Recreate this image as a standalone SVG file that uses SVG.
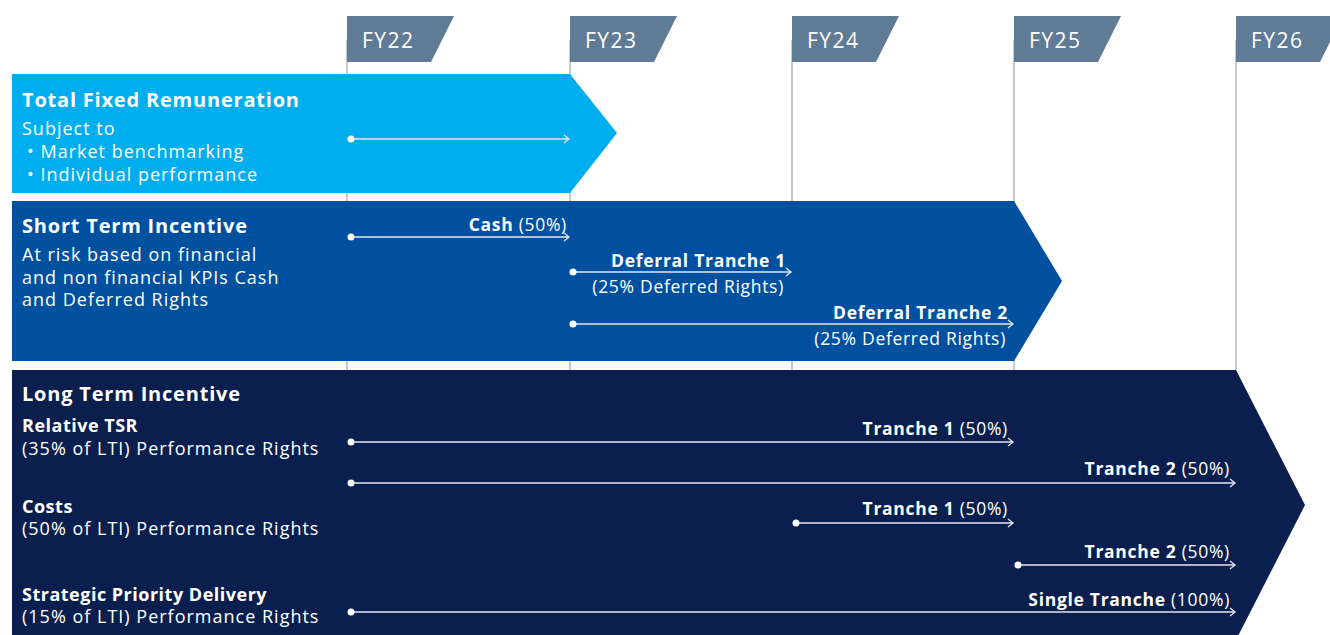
<svg xmlns="http://www.w3.org/2000/svg" width="1330" height="635" viewBox="0 0 1330 635">
<defs>
<style>
text{font-family:"Open Sans","Liberation Sans",Arial,sans-serif;fill:#fff}
.fy{font-size:21px;letter-spacing:1.5px}
.h{font-size:20px;font-weight:700;letter-spacing:0.8px}
.s{font-size:18px;font-weight:700;letter-spacing:0.5px}
.t{font-size:18px;letter-spacing:1px}
.lab{font-size:17.5px;letter-spacing:0.7px;text-anchor:end}
.b{font-weight:700}
.tl{stroke:#a3afbf;stroke-width:1.3}
.ar{stroke:#e4e8ef;stroke-width:1.3;fill:none}
.dot{fill:#fff}
</style>
<marker id="ah" markerWidth="10" markerHeight="10" refX="8" refY="5" orient="auto" markerUnits="userSpaceOnUse">
<path d="M3,1 L8,5 L3,9" fill="none" stroke="#e4e8ef" stroke-width="1.3"/>
</marker>
</defs>
<rect width="1330" height="635" fill="#fff"/>
<g id="timeline">
<line class="tl" x1="347" y1="40" x2="347" y2="635"/>
<line class="tl" x1="570" y1="40" x2="570" y2="635"/>
<line class="tl" x1="792" y1="40" x2="792" y2="635"/>
<line class="tl" x1="1014" y1="40" x2="1014" y2="635"/>
<line class="tl" x1="1236" y1="40" x2="1236" y2="635"/>
<g id="fy22"><path d="M347,16 H454 L431,62 H347 Z" fill="#607b95"/><text class="fy" x="362" y="48">FY22</text></g>
<g id="fy23"><path d="M570,16 H677 L654,62 H570 Z" fill="#607b95"/><text class="fy" x="585" y="48">FY23</text></g>
<g id="fy24"><path d="M792,16 H899 L876,62 H792 Z" fill="#607b95"/><text class="fy" x="807" y="48">FY24</text></g>
<g id="fy25"><path d="M1014,16 H1121 L1098,62 H1014 Z" fill="#607b95"/><text class="fy" x="1029" y="48">FY25</text></g>
<g id="fy26"><path d="M1236,16 H1343 L1320,62 H1236 Z" fill="#607b95"/><text class="fy" x="1251" y="48">FY26</text></g>
</g>
<g id="tfr">
<path d="M12,74 H570 L617,133 L570,193 H12 Z" fill="#00aeef"/>
<text class="h" x="22" y="107">Total Fixed Remuneration</text>
<text class="t" x="22" y="135">Subject to</text>
<text class="t" x="27" y="158">• Market benchmarking</text>
<text class="t" x="27" y="181">• Individual performance</text>
</g>
<g id="sti">
<path d="M12,201 H1014 L1062,281 L1014,361 H12 Z" fill="#0050a0"/>
<text class="h" x="22" y="233">Short Term Incentive</text>
<text class="t" x="22" y="261">At risk based on financial</text>
<text class="t" x="22" y="284">and non financial KPIs Cash</text>
<text class="t" x="22" y="306">and Deferred Rights</text>
<text class="lab" x="567" y="231"><tspan class="b">Cash</tspan> (50%)</text>
<text class="lab b" x="786" y="267">Deferral Tranche 1</text>
<text class="lab" x="784" y="293">(25% Deferred Rights)</text>
<text class="lab b" x="1008" y="319">Deferral Tranche 2</text>
<text class="lab" x="1006" y="345">(25% Deferred Rights)</text>
</g>
<g id="lti">
<path d="M12,370 H1236 L1305,505 L1236,640 H12 Z" fill="#0b1f4e"/>
<text class="h" x="22" y="401">Long Term Incentive</text>
<text class="s" x="22" y="432">Relative TSR</text>
<text class="t" x="22" y="455">(35% of LTI) Performance Rights</text>
<text class="s" x="22" y="513">Costs</text>
<text class="t" x="22" y="535">(50% of LTI) Performance Rights</text>
<text class="s" x="22" y="601">Strategic Priority Delivery</text>
<text class="t" x="22" y="623">(15% of LTI) Performance Rights</text>
<text class="lab" x="1008" y="435"><tspan class="b">Tranche 1</tspan> (50%)</text>
<text class="lab" x="1230" y="475"><tspan class="b">Tranche 2</tspan> (50%)</text>
<text class="lab" x="1008" y="515"><tspan class="b">Tranche 1</tspan> (50%)</text>
<text class="lab" x="1230" y="558"><tspan class="b">Tranche 2</tspan> (50%)</text>
<text class="lab" x="1230" y="606"><tspan class="b">Single Tranche</tspan> (100%)</text>
</g>
<g id="connectors">
<line class="ar" x1="351" y1="139" x2="569" y2="139" marker-end="url(#ah)"/><circle class="dot" cx="351" cy="139" r="3.5"/>
<line class="ar" x1="351" y1="237" x2="569" y2="237" marker-end="url(#ah)"/><circle class="dot" cx="351" cy="237" r="3.5"/>
<line class="ar" x1="573" y1="272" x2="791" y2="272" marker-end="url(#ah)"/><circle class="dot" cx="573" cy="272" r="3.5"/>
<line class="ar" x1="573" y1="324" x2="1013" y2="324" marker-end="url(#ah)"/><circle class="dot" cx="573" cy="324" r="3.5"/>
<line class="ar" x1="351" y1="442" x2="1013" y2="442" marker-end="url(#ah)"/><circle class="dot" cx="351" cy="442" r="3.5"/>
<line class="ar" x1="351" y1="483" x2="1235" y2="483" marker-end="url(#ah)"/><circle class="dot" cx="351" cy="483" r="3.5"/>
<line class="ar" x1="796" y1="523" x2="1013" y2="523" marker-end="url(#ah)"/><circle class="dot" cx="796" cy="523" r="3.5"/>
<line class="ar" x1="1018" y1="565" x2="1235" y2="565" marker-end="url(#ah)"/><circle class="dot" cx="1018" cy="565" r="3.5"/>
<line class="ar" x1="351" y1="612" x2="1235" y2="612" marker-end="url(#ah)"/><circle class="dot" cx="351" cy="612" r="3.5"/>
</g>
</svg>
